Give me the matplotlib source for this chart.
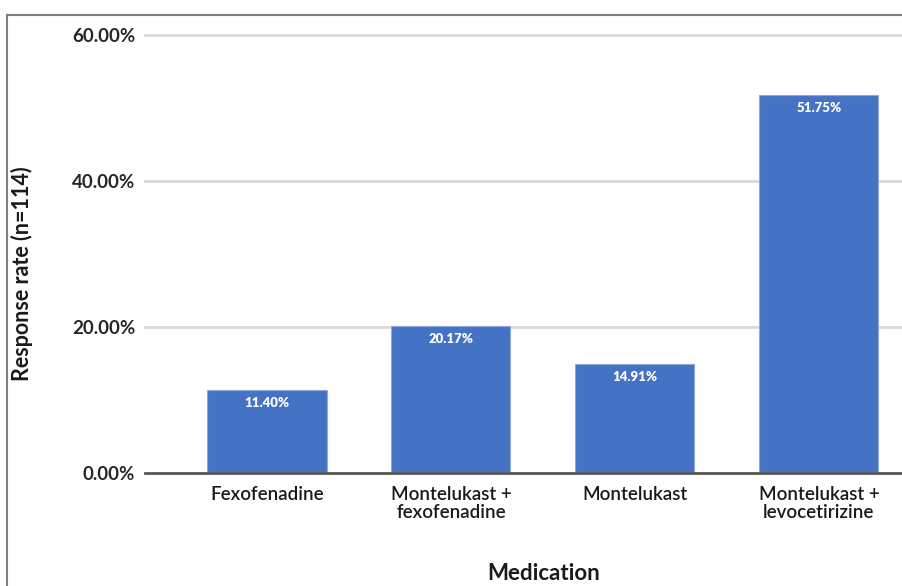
import matplotlib.pyplot as plt
from matplotlib.patches import Rectangle

# Response rate per medication group
medications = ['Fexofenadine', 'Montelukast +\nfexofenadine', 'Montelukast',
               'Montelukast +\nlevocetirizine']
response_rate = [11.40, 20.17, 14.91, 51.75]
y_ticks = [0, 20, 40, 60]

plt.rcParams['font.family'] = ['Lato', 'DejaVu Sans']

fig = plt.figure(figsize=(9.03, 5.86), dpi=100)
ax = fig.add_axes([0.1606, 0.1928, 0.8394, 0.7475])

x = range(len(medications))
bars = ax.bar(x, response_rate, width=0.647, color='#4472C4',
              edgecolor='#8fa9dc', linewidth=0.8, zorder=3)

for bar, val in zip(bars, response_rate):
    ax.text(bar.get_x() + bar.get_width() / 2, val - 1.75, f'{val:.2f}%',
            ha='center', va='center', color='white', fontsize=9.5,
            fontweight='heavy', zorder=4)

ax.set_xlim(-0.663, 3.457)
ax.set_ylim(0, 60)
ax.set_yticks(y_ticks)
ax.set_yticklabels([f'{t:.2f}%' for t in y_ticks], fontsize=13.5,
                   fontweight='bold', color='#262626')
ax.set_xticks(list(x))
ax.set_xticklabels(medications, fontsize=13.5, fontweight='semibold',
                   color='#1a1a1a', linespacing=1.1)
ax.tick_params(axis='y', length=0, pad=7)
ax.tick_params(axis='x', length=0, pad=9)

ax.grid(axis='y', color='#d9d9d9', linewidth=2, zorder=0)
for gl in ax.get_ygridlines():
    gl.set_clip_on(False)
for side in ['top', 'right', 'left']:
    ax.spines[side].set_visible(False)
ax.spines['bottom'].set_color('#595959')
ax.spines['bottom'].set_linewidth(2)
ax.spines['bottom'].set_zorder(5)

ax.set_ylabel('Response rate (n=114)', fontsize=15.5, fontweight='bold',
              color='#1a1a1a')
ax.yaxis.set_label_coords(-0.148, 0.454)
fig.text(0.602, 0.022, 'Medication', ha='center', va='center',
         fontsize=16, fontweight='bold', color='#1a1a1a')

# outer frame around the chart area
fig.patches.append(Rectangle((0.0078, -0.1), 1.2, 1.074, transform=fig.transFigure,
                             fill=False, edgecolor='#7f7f7f', linewidth=1.5))

fig.savefig('out.png', dpi=100)
